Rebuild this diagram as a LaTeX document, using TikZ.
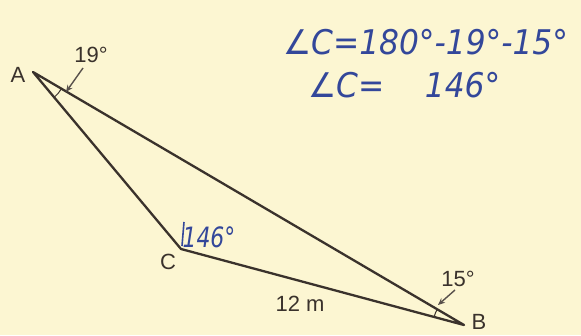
\documentclass[tikz,border=0pt]{standalone}
\usepackage{fontspec}
\setmainfont{Liberation Sans}
\newfontfamily\handfont{DejaVu Sans}
\usetikzlibrary{positioning,arrows.meta,calc}
\definecolor{paper}{HTML}{FCF6D2}
\definecolor{ink}{HTML}{3A322C}
\definecolor{pen}{HTML}{33479A}

\begin{document}
\begin{tikzpicture}[x=1pt,y=1pt,
  label/.style={text=ink,font=\fontsize{22}{24}\selectfont,inner sep=0pt},
  hand/.style={text=pen,font=\handfont\itshape\fontsize{34}{36}\selectfont,inner sep=0pt,xscale=0.92,transform shape},
  pointer/.style={draw=ink!85,line width=1.4pt,-{Stealth[length=7pt,width=6pt]}}]
\fill[paper] (0,0) rectangle (581,335);
\useasboundingbox (0,0) rectangle (581,335);
% vertices
\coordinate (A) at (33,263);
\coordinate (C) at (181,86);
\coordinate (B) at (464,10);
\draw[ink,line width=2.3pt,line join=round] (A) -- (B) -- (C) -- cycle;
% angle marks
\draw[ink,line width=1pt] ($(A)+(-50.1:33)$) arc[start angle=-50.1,end angle=-30.4,radius=33];
\draw[ink,line width=1pt] ($(B)+(149.6:31)$) arc[start angle=149.6,end angle=165,radius=31];
\draw[pen,line width=1.6pt] (182,89) -- (184,113);
% labels
\node[label] (labA) at (18,260) {A};
\node[label] (labC) at (168,73) {C};
\node[label] (labB) at (479,13) {B};
\node[label] (ang19) at (91,280) {19°};
\node[label] (ang15) at (458,56) {15°};
\node[label] (side) at (300,31) {12 m};
\coordinate (tipA) at (66,243);
\coordinate (tipB) at (438,30);
\draw[pointer] (83,267) -- (tipA);
\draw[pointer] (455,45) -- (tipB);
% working
\node[hand,xscale=0.85,font=\handfont\itshape\fontsize{28}{30}\selectfont] (angC) at (209,98) {146°};
\node[hand,anchor=west] (line1) at (283,293) {∠C=180°-19°-15°};
\node[hand,anchor=west] (line2) at (308,250) {∠C=\hspace{1.3em}146°};
\end{tikzpicture}
\end{document}
